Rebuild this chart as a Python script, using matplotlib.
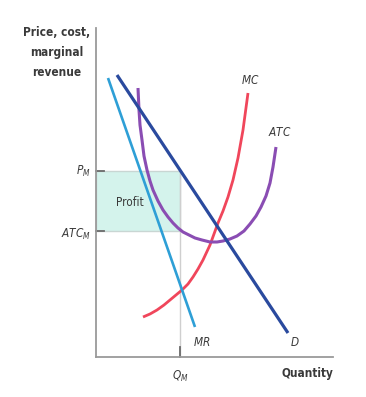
import matplotlib
matplotlib.use("Agg")
import matplotlib.pyplot as plt
from matplotlib.patches import Rectangle

# values, origin at the axis corner
demand_x = [21, 192]
demand_y = [282, 24]
mr_x = [12, 99]
mr_y = [279, 30]
mc_x = [47, 54, 61, 68, 74, 80, 86, 92, 97, 102, 107, 114, 122, 127, 132, 137, 142, 147, 152]
mc_y = [40, 43, 47, 52, 57, 62, 67, 73, 80, 88, 97, 112, 134, 146, 160, 177, 199, 227, 264]
atc_x = [42, 43, 44, 46, 48, 51, 54, 57, 62, 67, 72, 77, 82, 87, 93, 99, 106, 114, 121,
         127, 134, 141, 148, 154, 160, 165, 170, 174, 177, 180]
atc_y = [269, 247, 232, 217, 201, 187, 176, 167, 156, 147, 140, 134, 129, 125, 122, 119,
         117, 115, 115, 116, 118, 121, 126, 133, 141, 150, 161, 174, 190, 210]
q_m = 84
p_m = 186
atc_m = 126

plt.rcParams["font.family"] = ["DejaVu Sans"]
plt.rcParams["font.stretch"] = "condensed"
plt.rcParams["mathtext.fontset"] = "custom"
plt.rcParams["mathtext.it"] = "DejaVu Sans:italic:stretch=condensed"
plt.rcParams["mathtext.rm"] = "DejaVu Sans:stretch=condensed"

fig = plt.figure(figsize=(3.66, 3.97), dpi=100)
ax = fig.add_axes([96 / 366, 40 / 397, 237 / 366, 329 / 397])
ax.set_xlim(0, 237)
ax.set_ylim(0, 329)
ax.set_xticks([])
ax.set_yticks([])
for side in ["top", "right"]:
    ax.spines[side].set_visible(False)
for side in ["left", "bottom"]:
    ax.spines[side].set_color("#9a9a9a")
    ax.spines[side].set_linewidth(1.3)

ax.add_patch(Rectangle((0, atc_m), q_m, p_m - atc_m, facecolor="#d4f3ec",
                       edgecolor="#c9d6d3", linewidth=1.0, zorder=1))
ax.plot([q_m, q_m], [0, p_m], color="#cfcfcf", linewidth=1.0, zorder=1)

tick = dict(color="#6a6a6a", linewidth=1.3, clip_on=False, zorder=2)
ax.plot([0, 8], [p_m, p_m], **tick)
ax.plot([0, 8], [atc_m, atc_m], **tick)
ax.plot([q_m, q_m], [0, 10], **tick)

ax.plot(mc_x, mc_y, color="#f0465b", linewidth=2.0, solid_capstyle="butt", zorder=3)
ax.plot(atc_x, atc_y, color="#8a4db3", linewidth=2.2, solid_capstyle="butt", zorder=3)
ax.plot(mr_x, mr_y, color="#2e9fd6", linewidth=1.9, solid_capstyle="butt", zorder=4)
ax.plot(demand_x, demand_y, color="#2a4a9e", linewidth=2.3, solid_capstyle="butt", zorder=4)

txt = "#3a3a3a"
ax.text(-39, 331, "Price, cost,\nmarginal\nrevenue", ha="center", va="top", fontsize=8.5,
        fontweight="bold", color=txt, linespacing=1.7, multialignment="center", clip_on=False)
ax.text(237, -16, "Quantity", ha="right", va="center", fontsize=8.5,
        fontweight="bold", color=txt, clip_on=False)
ax.text(q_m, -19, r"$Q_M$", ha="center", va="center", fontsize=8.5, color=txt, clip_on=False)
ax.text(-5, p_m, r"$P_M$", ha="right", va="center", fontsize=8.5, color=txt, clip_on=False)
ax.text(-5, atc_m - 3, r"$ATC_M$", ha="right", va="center", fontsize=8.5, color=txt, clip_on=False)
ax.text(34, 155, "Profit", ha="center", va="center", fontsize=8.5, color=txt)
ax.text(154, 277, r"$MC$", ha="center", va="center", fontsize=8.5, color=txt)
ax.text(184, 225, r"$ATC$", ha="center", va="center", fontsize=8.5, color=txt)
ax.text(106, 14, r"$MR$", ha="center", va="center", fontsize=8.5, color=txt)
ax.text(199, 14, r"$D$", ha="center", va="center", fontsize=8.5, color=txt)

fig.savefig("out.png", dpi=100, facecolor="white")
